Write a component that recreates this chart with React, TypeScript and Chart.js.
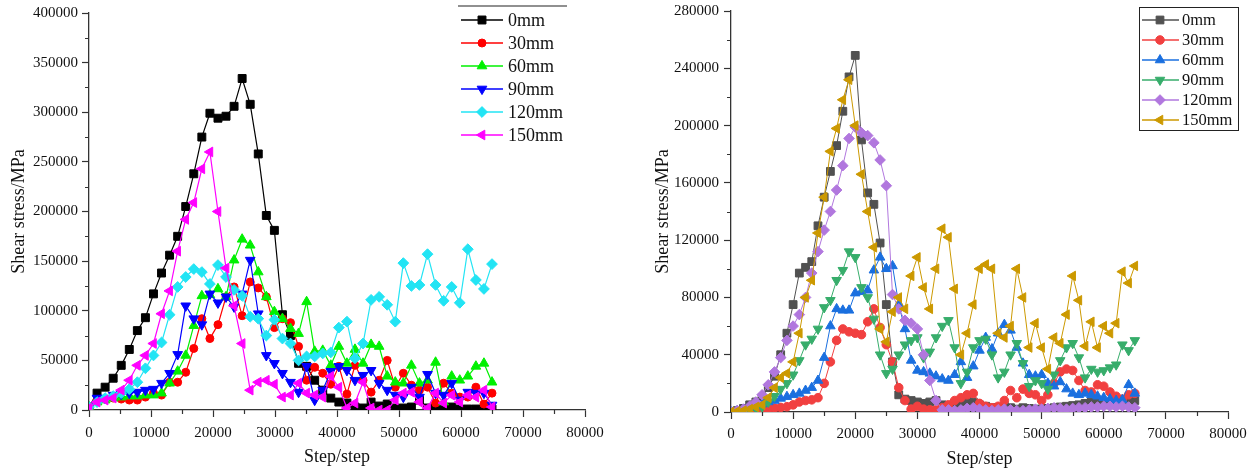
import React, { useEffect, useRef } from "react";
import { Chart, registerables } from "chart.js";
import { drawPoint } from "chart.js/helpers";

Chart.register(...registerables);

const FONT = "'Liberation Serif', 'Times New Roman', serif";
const AXIS_COLOR = "#333333";
const TEXT_COLOR = "#111111";

const seriesLabels = ["0mm", "30mm", "60mm", "90mm", "120mm", "150mm"];

// Panel A: sampled every 1300 steps, 0 … 65000
const stepsA = Array.from({ length: 51 }, (_, i) => i * 1300);
const a0mm = [
  3000, 17000, 23000, 32000, 45000, 61000, 80000, 93000, 117000, 138000,
  156000, 175000, 205000, 238000, 275000, 299000, 294000, 296000, 306000, 334000,
  308000, 258000, 196000, 181000, 96000, 75000, 47000, 44000, 30000, 20000,
  12000, 8000, 7000, 3000, 2000, 8000, 4000, 6000, 2000, 2000,
  3000, 10000, 2000, 2000, 1500, 3000, 1000, 1000, 1000, 1000, 1000,
];
const a30mm = [
  2000, 10000, 11000, 12000, 11000, 10000, 10000, 13000, 17000, 15000,
  28000, 28000, 38000, 62000, 92000, 72000, 86000, 114000, 124000, 95000,
  129000, 123000, 114000, 83000, 92000, 88000, 64000, 30000, 43000, 37000,
  26000, 44000, 16000, 45000, 30000, 18000, 30000, 50000, 23000, 37000,
  25000, 20000, 23000, 7000, 27000, 17000, 13000, 13000, 23000, 6000, 17000,
];
const a60mm = [
  3000, 8000, 10000, 12000, 13000, 14000, 14000, 15000, 15000, 17000,
  27000, 39000, 55000, 85000, 115000, 116000, 122000, 114000, 151000, 172000,
  166000, 139000, 114000, 99000, 92000, 82000, 77000, 109000, 59000, 60000,
  45000, 64000, 47000, 61000, 47000, 66000, 64000, 34000, 28000, 27000,
  45000, 27000, 30000, 48000, 8000, 34000, 30000, 34000, 44000, 47000, 28000,
];
const a90mm = [
  3000, 12000, 12000, 15000, 16000, 17000, 18000, 20000, 21000, 27000,
  37000, 56000, 105000, 92000, 86000, 117000, 108000, 114000, 104000, 117000,
  151000, 97000, 55000, 47000, 37000, 28000, 18000, 44000, 10000, 20000,
  39000, 44000, 40000, 30000, 35000, 40000, 27000, 20000, 15000, 13000,
  23000, 13000, 36000, 17000, 15000, 27000, 10000, 18000, 17000, 17000, 5000,
];
const a120mm = [
  3000, 8000, 12000, 14000, 17000, 21000, 28000, 42000, 55000, 68000,
  96000, 124000, 134000, 142000, 139000, 127000, 146000, 134000, 121000, 115000,
  94000, 92000, 75000, 91000, 72000, 67000, 50000, 54000, 54000, 57000,
  58000, 83000, 89000, 52000, 67000, 111000, 114000, 106000, 89000, 148000,
  125000, 126000, 157000, 126000, 110000, 124000, 108000, 162000, 131000, 122000, 147000,
];
const a150mm = [
  2000, 8000, 10000, 12000, 20000, 30000, 45000, 55000, 67000, 97000,
  120000, 160000, 192000, 209000, 243000, 260000, 200000, 143000, 105000, 67000,
  20000, 28000, 30000, 26000, 13000, 15000, 27000, 17000, 15000, 13000,
  34000, 23000, 2000, 7000, 28000, 2000, 0, 0, 10000, 17000,
  18000, 8000, 2000, 17000, 7000, 15000, 8000, 15000, 13000, 20000, 3000,
];

// Panel B: sampled every 1000 steps, 0 … 65000
const stepsB = Array.from({ length: 66 }, (_, i) => i * 1000);
const b0mm = [
  0, 1000, 2500, 5000, 7000, 10000, 17000, 25000, 40000, 55000,
  75000, 97000, 101000, 105000, 130000, 150000, 168000, 186000, 210000, 234000,
  249000, 190000, 153000, 145000, 118000, 75000, 35000, 12000, 9000, 8000,
  7000, 6000, 7000, 8000, 5000, 4000, 6000, 7000, 8000, 7000,
  5000, 4000, 3000, 3000, 4000, 3000, 2000, 3000, 2500, 2000,
  2000, 2500, 3000, 3500, 4000, 4500, 5000, 6000, 7000, 7000,
  6000, 5000, 6000, 7000, 9000, 8000,
];
const b30mm = [
  0, 300, 600, 1000, 1300, 1700, 2200, 2700, 3200, 3700,
  5000, 7000, 8000, 8500, 10000, 20000, 35000, 50000, 58000, 56000,
  55000, 54000, 63000, 72000, 59000, 47000, 35000, 17000, 8000, 2000,
  4000, 2000, 1500, 1500, 3000, 5000, 8000, 10000, 12000, 13000,
  6000, 4000, 3000, 4000, 8000, 15000, 10000, 16000, 13000, 12000,
  8000, 12000, 20000, 28000, 30000, 29000, 22000, 15000, 14000, 19000,
  18000, 14000, 11000, 9000, 12000, 13000,
];
const b60mm = [
  0, 800, 1800, 3000, 4200, 5500, 7000, 8000, 9500, 10700,
  12000, 13000, 15000, 17000, 22000, 38000, 60000, 72000, 71000, 71000,
  83000, 84000, 85000, 99000, 108000, 100000, 102000, 75000, 58000, 36000,
  29000, 28000, 27000, 25000, 23000, 22000, 26000, 35000, 24000, 32000,
  43000, 52000, 44000, 55000, 61000, 57000, 45000, 34000, 26000, 25000,
  26000, 20000, 18000, 21000, 16000, 13000, 12000, 13000, 12000, 11000,
  10000, 9000, 8000, 8500, 19000, 13000,
];
const b90mm = [
  0, 500, 1000, 1500, 2500, 3500, 7000, 11000, 16000, 20000,
  26000, 36000, 47000, 51000, 58000, 73000, 78000, 92000, 99000, 112000,
  108000, 87000, 80000, 65000, 40000, 27000, 30000, 40000, 47000, 50000,
  52000, 38000, 42000, 52000, 60000, 64000, 45000, 20000, 28000, 45000,
  50000, 51000, 40000, 24000, 28000, 40000, 48000, 34000, 18000, 22000,
  20000, 16000, 26000, 36000, 45000, 48000, 38000, 24000, 30000, 28000,
  29000, 31000, 33000, 47000, 43000, 50000,
];
const b120mm = [
  0, 1000, 2000, 4000, 7000, 12000, 19000, 28000, 38000, 50000,
  60000, 68000, 80000, 97000, 112000, 127000, 140000, 155000, 172000, 191000,
  199000, 195000, 193000, 188000, 176000, 158000, 82000, 72000, 64000, 62000,
  58000, 40000, 22000, 8000, 1500, 1500, 1000, 1500, 2500, 3000,
  2000, 1500, 1000, 1500, 2000, 1500, 1000, 1000, 1500, 2000,
  2000, 2500, 3000, 2500, 2000, 2500, 3000, 3000, 3500, 3500,
  4000, 4000, 3500, 4000, 3500, 3000,
];
const b150mm = [
  0, 500, 1000, 2000, 3500, 5000, 10000, 17000, 24000, 27000,
  35000, 55000, 80000, 92000, 125000, 150000, 182000, 198000, 218000, 232000,
  200000, 166000, 140000, 115000, 58000, 49000, 70000, 80000, 72000, 95000,
  108000, 87000, 72000, 100000, 128000, 122000, 86000, 40000, 55000, 75000,
  100000, 103000, 100000, 55000, 52000, 60000, 100000, 80000, 45000, 62000,
  45000, 30000, 52000, 48000, 68000, 95000, 78000, 46000, 63000, 45000,
  60000, 55000, 62000, 98000, 90000, 102000,
];

const colorsA = ["#000000", "#ff0000", "#00f000", "#0000ff", "#22e4f4", "#ff00ff"];
const colorsB = ["#515151", "#f14040", "#1a6fdf", "#37ad6b", "#b177de", "#cc9900"];

// square, circle, up-triangle, down-triangle, diamond, left-triangle
const markerStyles = ["rect", "circle", "triangle", "triangle", "rectRot", "triangle"];
const markerRotations = [0, 0, 0, 180, 0, 270];

type LegendOpts = {
  frame?: [number, number, number, number];
  rule?: [number, number, number];
  lineX0: number;
  lineX1: number;
  markX: number;
  textX: number;
  y0: number;
  dy: number;
  fontSize: number;
  lineWidth: number;
};

type PanelCfg = {
  steps: number[];
  values: number[][];
  colors: string[];
  radii: number[];
  lineWidth: number;
  yMax: number;
  yStep: number;
  axisW: number;
  axisH: number;
  padding: { left: number; top: number; right: number; bottom: number };
  yTickPad: number;
  xTickPad: number;
  yTitlePad: number;
  xTitlePad: number;
  legend: LegendOpts;
};

const minorTickPlugin = {
  id: "minorTicks",
  afterDraw(chart: any, _args: any, opts: any) {
    const { ctx } = chart;
    const xs = chart.scales.x;
    const ys = chart.scales.y;
    ctx.save();
    ctx.strokeStyle = AXIS_COLOR;
    ctx.lineWidth = 1.2;
    ctx.beginPath();
    for (let v = opts.xMinor; v < xs.max; v += opts.xMinor * 2) {
      const px = Math.round(xs.getPixelForValue(v)) + 0.5;
      ctx.moveTo(px, xs.top);
      ctx.lineTo(px, xs.top + 4);
    }
    for (let v = opts.yMinor; v < ys.max; v += opts.yMinor * 2) {
      const py = Math.round(ys.getPixelForValue(v)) + 0.5;
      ctx.moveTo(ys.right, py);
      ctx.lineTo(ys.right - 4, py);
    }
    ctx.stroke();
    ctx.restore();
  },
};

const legendPlugin = {
  id: "seriesLegend",
  afterDraw(chart: any, _args: any, o: LegendOpts) {
    const { ctx } = chart;
    ctx.save();
    if (o.frame) {
      const [l, t, r, b] = o.frame;
      ctx.strokeStyle = "#222222";
      ctx.lineWidth = 1;
      ctx.strokeRect(l + 0.5, t + 0.5, r - l, b - t);
    }
    if (o.rule) {
      const [x0, x1, y] = o.rule;
      ctx.strokeStyle = "#222222";
      ctx.lineWidth = 1.2;
      ctx.beginPath();
      ctx.moveTo(x0, y);
      ctx.lineTo(x1, y);
      ctx.stroke();
    }
    chart.data.datasets.forEach((ds: any, i: number) => {
      const y = o.y0 + i * o.dy;
      ctx.strokeStyle = ds.borderColor;
      ctx.lineWidth = o.lineWidth;
      ctx.beginPath();
      ctx.moveTo(o.lineX0, y);
      ctx.lineTo(o.lineX1, y);
      ctx.stroke();
      ctx.fillStyle = ds.pointBackgroundColor;
      ctx.strokeStyle = ds.pointBorderColor;
      ctx.lineWidth = 1;
      drawPoint(
        ctx,
        { pointStyle: ds.pointStyle, rotation: ds.pointRotation, radius: ds.pointRadius, borderWidth: 1 },
        o.markX,
        y
      );
      ctx.fillStyle = TEXT_COLOR;
      ctx.font = `${o.fontSize}px ${FONT}`;
      ctx.textAlign = "left";
      ctx.textBaseline = "middle";
      ctx.fillText(ds.label, o.textX, y + 1);
    });
    ctx.restore();
  },
};

function buildConfig(cfg: PanelCfg): any {
  const datasets = cfg.values.map((vals, i) => ({
    label: seriesLabels[i],
    data: vals.map((v, j) => ({ x: cfg.steps[j], y: v })),
    borderColor: cfg.colors[i],
    backgroundColor: cfg.colors[i],
    pointBackgroundColor: cfg.colors[i],
    pointBorderColor: cfg.colors[i],
    pointBorderWidth: 1,
    pointStyle: markerStyles[i],
    pointRotation: markerRotations[i],
    pointRadius: cfg.radii[i],
    pointHoverRadius: cfg.radii[i],
    borderWidth: cfg.lineWidth,
    tension: 0,
    fill: false,
    order: seriesLabels.length - i,
  }));

  const tickFont = { family: FONT, size: 15 };
  const titleFont = { family: FONT, size: 18 };

  return {
    type: "line",
    data: { datasets },
    options: {
      responsive: false,
      animation: false,
      events: [],
      layout: { padding: cfg.padding },
      plugins: {
        legend: { display: false },
        tooltip: { enabled: false },
        minorTicks: { xMinor: 5000, yMinor: cfg.yStep / 2 },
        seriesLegend: cfg.legend,
      },
      scales: {
        x: {
          type: "linear",
          min: 0,
          max: 80000,
          ticks: {
            stepSize: 10000,
            padding: cfg.xTickPad,
            color: TEXT_COLOR,
            font: tickFont,
            maxRotation: 0,
            callback: (v: number) => String(v),
          },
          grid: {
            drawOnChartArea: false,
            drawTicks: true,
            tickLength: 7,
            tickColor: AXIS_COLOR,
            tickWidth: 1.2,
          },
          border: { display: true, color: AXIS_COLOR, width: 1.3 },
          title: {
            display: true,
            text: "Step/step",
            color: TEXT_COLOR,
            font: titleFont,
            padding: { top: 0, bottom: cfg.xTitlePad },
          },
          afterFit: (s: any) => {
            s.height = cfg.axisH;
            s.paddingLeft = 0;
            s.paddingRight = 0;
          },
        },
        y: {
          type: "linear",
          min: 0,
          max: cfg.yMax,
          ticks: {
            stepSize: cfg.yStep,
            padding: cfg.yTickPad,
            color: TEXT_COLOR,
            font: tickFont,
            callback: (v: number) => String(v),
          },
          grid: {
            drawOnChartArea: false,
            drawTicks: true,
            tickLength: 7,
            tickColor: AXIS_COLOR,
            tickWidth: 1.2,
          },
          border: { display: true, color: AXIS_COLOR, width: 1.3 },
          title: {
            display: true,
            text: "Shear stress/MPa",
            color: TEXT_COLOR,
            font: titleFont,
            padding: { top: cfg.yTitlePad, bottom: 0 },
          },
          afterFit: (s: any) => {
            s.width = cfg.axisW;
            s.paddingTop = 0;
            s.paddingBottom = 0;
          },
        },
      },
    },
    plugins: [minorTickPlugin, legendPlugin],
  };
}

const panelA: PanelCfg = {
  steps: stepsA,
  values: [a0mm, a30mm, a60mm, a90mm, a120mm, a150mm],
  colors: colorsA,
  radii: [5.6, 4, 5.6, 5.6, 5.4, 5.6],
  lineWidth: 1.2,
  yMax: 400000,
  yStep: 50000,
  axisW: 89,
  axisH: 62,
  padding: { left: 0, top: 13, right: 45, bottom: 0 },
  yTickPad: 4,
  xTickPad: 7,
  yTitlePad: 8,
  xTitlePad: 4,
  legend: {
    rule: [458, 567, 6],
    lineX0: 461,
    lineX1: 503,
    markX: 482,
    textX: 508,
    y0: 20,
    dy: 23,
    fontSize: 18,
    lineWidth: 1.5,
  },
};

const panelB: PanelCfg = {
  steps: stepsB,
  values: [b0mm, b30mm, b60mm, b90mm, b120mm, b150mm],
  colors: colorsB,
  radii: [5.5, 4.3, 5.5, 5.5, 5.3, 5.5],
  lineWidth: 1,
  yMax: 280000,
  yStep: 40000,
  axisW: 101,
  axisH: 60,
  padding: { left: 0, top: 11, right: 32, bottom: 0 },
  yTickPad: 5,
  xTickPad: 6,
  yTitlePad: 22,
  xTitlePad: 2,
  legend: {
    frame: [509, 7, 608, 130],
    lineX0: 512,
    lineX1: 549,
    markX: 530,
    textX: 552,
    y0: 20,
    dy: 20,
    fontSize: 16.5,
    lineWidth: 1.5,
  },
};

function Panel({ cfg, left }: { cfg: PanelCfg; left: number }) {
  const ref = useRef<HTMLCanvasElement>(null);
  useEffect(() => {
    const chart = new Chart(ref.current as HTMLCanvasElement, buildConfig(cfg));
    return () => chart.destroy();
  }, [cfg]);
  return (
    <canvas
      ref={ref}
      width={630}
      height={472}
      style={{ position: "absolute", left, top: 0, width: 630, height: 472, display: "block" }}
    />
  );
}

export default function App() {
  return (
    <div
      style={{
        position: "fixed",
        left: 0,
        top: 0,
        width: 1260,
        height: 472,
        background: "#ffffff",
        overflow: "hidden",
      }}
    >
      <Panel cfg={panelA} left={0} />
      <Panel cfg={panelB} left={630} />
    </div>
  );
}
